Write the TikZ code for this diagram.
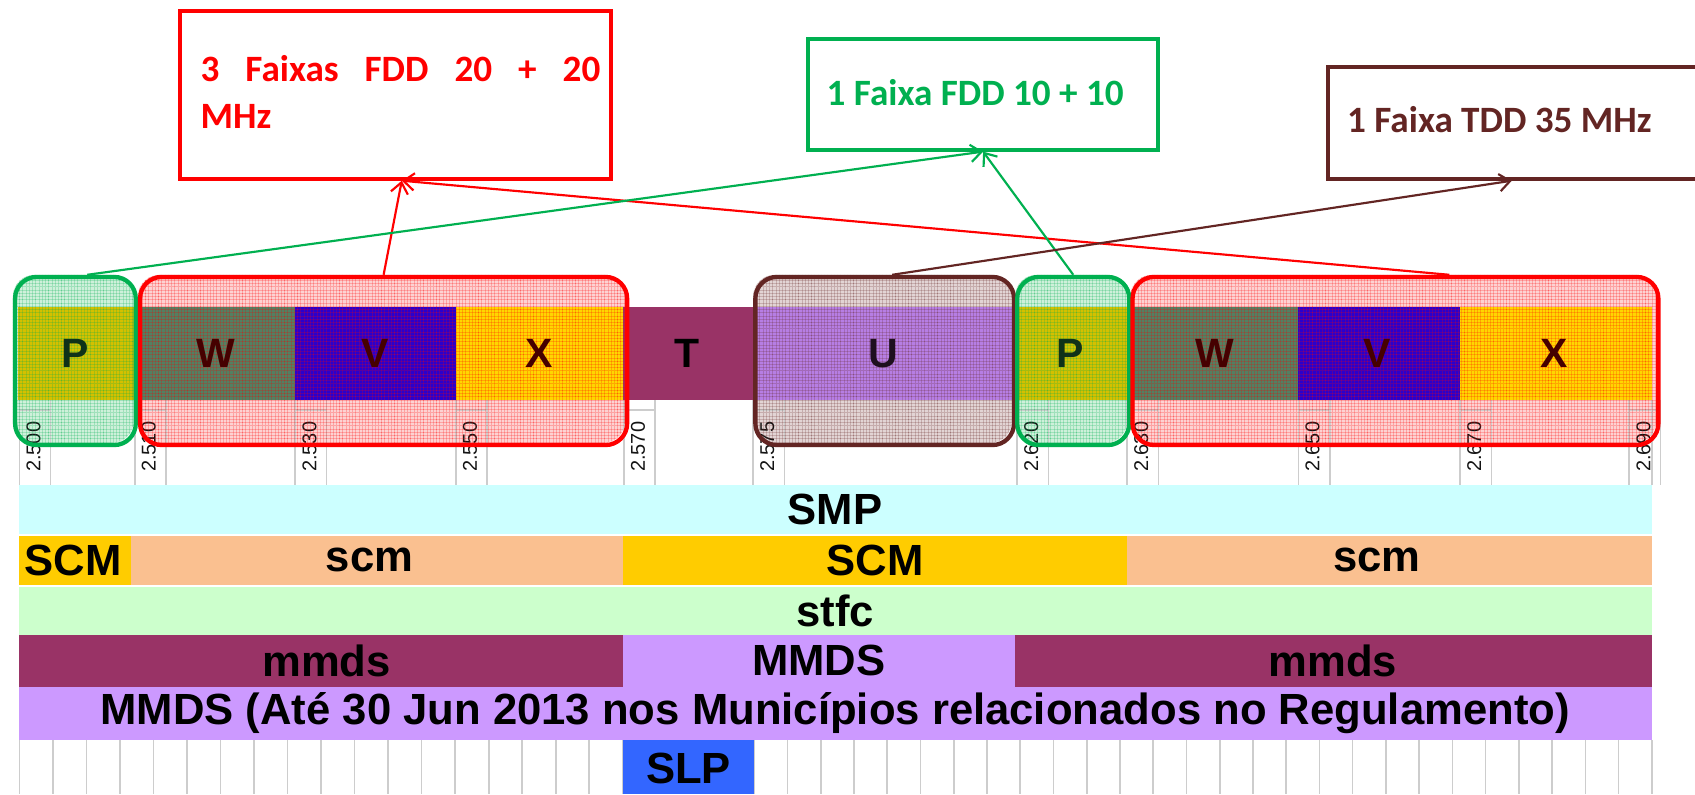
\documentclass[tikz,border=0pt]{standalone}
\usepackage{fontspec}
\setmainfont{Liberation Sans}
\newfontfamily\calfont{Carlito}
\usetikzlibrary{arrows.meta,calc,patterns}
\definecolor{cred}{RGB}{255,0,0}
\definecolor{cgreen}{RGB}{0,176,80}
\definecolor{cbrown}{RGB}{99,37,35}
\definecolor{pfill}{RGB}{212,192,0}
\definecolor{wfill}{RGB}{82,128,98}
\definecolor{vfill}{RGB}{42,0,205}
\definecolor{xfill}{RGB}{255,214,0}
\definecolor{tfill}{RGB}{153,51,102}
\definecolor{ufill}{RGB}{182,126,228}
\definecolor{gmesh}{RGB}{206,240,218}
\definecolor{rmesh}{RGB}{253,210,210}
\definecolor{bmesh}{RGB}{226,212,212}
\definecolor{csmp}{RGB}{204,255,255}
\definecolor{cgold}{RGB}{255,204,0}
\definecolor{cpeach}{RGB}{250,192,144}
\definecolor{cstfc}{RGB}{204,255,204}
\definecolor{cmmds}{RGB}{153,51,102}
\definecolor{clav}{RGB}{204,153,255}
\definecolor{cslp}{RGB}{51,102,255}
\definecolor{gridc}{RGB}{205,205,205}
\begin{document}
\begin{tikzpicture}[x=1pt,y=-1pt,
  bandtxt/.style={font=\fontsize{40.5}{44}\selectfont\bfseries, inner sep=0, text=black},
  lettxt/.style={font=\fontsize{38}{40}\selectfont\bfseries, inner sep=0},
  ticktxt/.style={font=\fontsize{18.5}{20}\selectfont, rotate=90, anchor=base west, inner sep=0, text={rgb,255:red,20;green,20;blue,20}},
  rbox/.style={draw=#1, line width=4pt, rounded corners=20pt, anchor=north west, inner sep=0},
  topbox/.style={draw=#1, line width=3.7pt, anchor=north west, inner sep=0, fill=white},
  toptxt/.style={font=\calfont\bfseries\fontsize{34.5}{43}\selectfont, text=#1, inner sep=0, anchor=base west},
  arr/.style={draw=#1, line width=2pt, -{Straight Barb[length=10pt,width=16pt,line width=2pt]}},
  gridl/.style={draw=gridc, line width=1.5pt},
  mesh/.style={pattern=grid, pattern color=#1, opacity=0.22, rounded corners=20pt}]
\useasboundingbox (0,0) rectangle (1573,737);
\fill[white] (0,0) rectangle (1573,737);

% rounded box fills
\fill[gmesh, rounded corners=20pt] (12,255) rectangle (124,411);
\fill[rmesh, rounded corners=20pt] (128,255) rectangle (580,411);
\fill[bmesh, rounded corners=20pt] (699,255) rectangle (939,411);
\fill[gmesh, rounded corners=20pt] (942,255) rectangle (1046,411);
\fill[rmesh, rounded corners=20pt] (1049,255) rectangle (1537,411);

% tick grid and labels
\foreach \b/\lab in {18/2.500,125/2.510,274/2.530,423/2.550,579/2.570,699/2.575,944/2.620,1046/2.630,1205/2.650,1355/2.670,1512/2.690}{
  \draw[gridl] (\b,371) -- (\b,450);
  \draw[gridl] (\b+29,371) -- (\b+29,450);
  \draw[gridl] (\b,380.5) -- (\b+29,380.5);
  \node[ticktxt] at (\b+19.5,438) {\lab};
}
\draw[gridl] (1533,371) -- (1533,450);

% strip
\fill[pfill] (17,285) rectangle (125,371);
\fill[wfill] (125,285) rectangle (274,371);
\fill[vfill] (274,285) rectangle (423,371);
\fill[xfill] (423,285) rectangle (578,371);
\fill[tfill] (578,285) rectangle (699,371);
\fill[ufill] (699,285) rectangle (944,371);
\fill[pfill] (944,285) rectangle (1046,371);
\fill[wfill] (1046,285) rectangle (1205,371);
\fill[vfill] (1205,285) rectangle (1355,371);
\fill[xfill] (1355,285) rectangle (1533,371);

% mesh overlays
\fill[mesh=cgreen] (12,255) rectangle (124,411);
\fill[mesh=cred] (128,255) rectangle (580,411);
\fill[mesh=cbrown] (699,255) rectangle (939,411);
\fill[mesh=cgreen] (942,255) rectangle (1046,411);
\fill[mesh=cred] (1049,255) rectangle (1537,411);

\node[lettxt, text={rgb,255:red,15;green,50;blue,25}] (lp1) at (70,328) {P};
\node[lettxt, text={rgb,255:red,70;green,0;blue,0}] (lw1) at (200,328) {W};
\node[lettxt, text={rgb,255:red,70;green,0;blue,0}] (lv1) at (348,328) {V};
\node[lettxt, text={rgb,255:red,70;green,0;blue,0}] (lx1) at (500,328) {X};
\node[lettxt, text=black] (lt) at (638,328) {T};
\node[lettxt, text={rgb,255:red,30;green,15;blue,30}] (lu) at (820,328) {U};
\node[lettxt, text={rgb,255:red,15;green,50;blue,25}] (lp2) at (993,328) {P};
\node[lettxt, text={rgb,255:red,70;green,0;blue,0}] (lw2) at (1127,328) {W};
\node[lettxt, text={rgb,255:red,70;green,0;blue,0}] (lv2) at (1278,328) {V};
\node[lettxt, text={rgb,255:red,70;green,0;blue,0}] (lx2) at (1442,328) {X};

% rounded box borders
\node[rbox=cgreen, minimum width=112pt, minimum height=156pt] (g1) at (12,255) {};
\node[rbox=cred, minimum width=452pt, minimum height=156pt] (r1) at (128,255) {};
\node[rbox=cbrown, minimum width=240pt, minimum height=156pt] (u1) at (699,255) {};
\node[rbox=cgreen, minimum width=104pt, minimum height=156pt] (g2) at (942,255) {};
\node[rbox=cred, minimum width=488pt, minimum height=156pt] (r2) at (1049,255) {};

% top boxes
\node[topbox=cred, minimum width=400pt, minimum height=156pt] (fred) at (165,8) {};
\node[topbox=cgreen, minimum width=325pt, minimum height=103pt] (fgreen) at (748,34) {};
\node[topbox=cbrown, minimum width=400pt, minimum height=104pt] (fbrown) at (1231,60) {};
\node[toptxt=cred] (tred) at (186,76) {\parbox[t]{371pt}{\makebox[371pt][s]{3 Faixas FDD 20 + 20}\\MHz}};
\node[toptxt=cgreen] (tgreen) at (767,98) {1 Faixa FDD 10 + 10};
\node[toptxt=cbrown] (tbrown) at (1250,123) {1 Faixa TDD 35 MHz};

% arrows
\coordinate (redtip) at ($(fred.south)+(6,0)$);
\coordinate (browntip) at ($(fbrown.south west)+(172,0)$);
\draw[arr=cred] (r1.north) -- (redtip);
\draw[arr=cred] ($(r2.north)+(50,0)$) -- (redtip);
\draw[arr=cgreen] ($(g1.north)+(11,0)$) -- (fgreen.south);
\draw[arr=cgreen] (g2.north) -- (fgreen.south);
\draw[arr=cbrown] ($(u1.north)+(7,0)$) -- (browntip);

% service rows
\fill[csmp] (18,450.5) rectangle (1533,495.5);
\node[bandtxt] (smp) at (775,473) {SMP};
\fill[cgold] (18,497) rectangle (122,542.5);
\fill[cpeach] (122,497) rectangle (578,542.5);
\fill[cgold] (578,497) rectangle (1046,542.5);
\fill[cpeach] (1046,497) rectangle (1533,542.5);
\node[bandtxt] (scm1) at (68,520) {SCM};
\node[bandtxt] (scm2) at (343,520) {scm};
\node[bandtxt] (scm3) at (812,520) {SCM};
\node[bandtxt] (scm4) at (1278,520) {scm};
\fill[cstfc] (18,545) rectangle (1533,589);
\node[bandtxt] (stfc) at (775,567) {stfc};
\fill[cmmds] (18,589) rectangle (578,637.5);
\fill[clav] (578,589) rectangle (942,637.5);
\fill[cmmds] (942,589) rectangle (1533,637.5);
\node[bandtxt] (mm1) at (303,613) {mmds};
\node[bandtxt] (mm2) at (760,613) {MMDS};
\node[bandtxt] (mm3) at (1237,613) {mmds};
\fill[clav] (18,637.5) rectangle (1533,687);
\node[bandtxt] (ate) at (775,662) {MMDS (Até 30 Jun 2013 nos Municípios relacionados no Regulamento)};
\foreach \k in {0,...,18}{\draw[gridl] (18+31.11*\k,687) -- (18+31.11*\k,737);}
\foreach \k in {0,...,27}{\draw[gridl] (700+30.85*\k,687) -- (700+30.85*\k,737);}
\fill[cslp] (578,687) rectangle (700,737);
\node[bandtxt] (slp) at (639,713) {SLP};
\end{tikzpicture}
\end{document}
